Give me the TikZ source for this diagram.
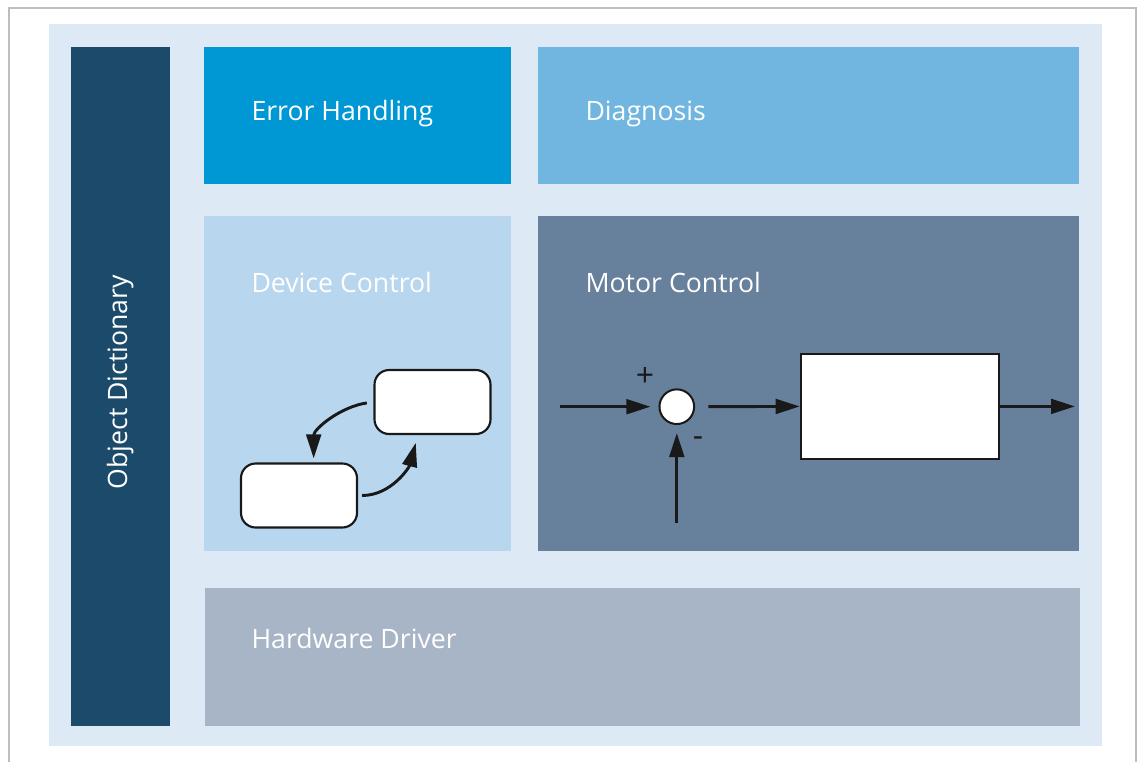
\documentclass[tikz,border=0pt]{standalone}
\usepackage{fontspec}
\setsansfont{Open Sans}
\usetikzlibrary{arrows.meta}

\definecolor{frameGray}{HTML}{BDBDBD}
\definecolor{paleBlue}{HTML}{DDE9F5}
\definecolor{dictBlue}{HTML}{1B4A6B}
\definecolor{errBlue}{HTML}{0098D4}
\definecolor{diagBlue}{HTML}{70B6E0}
\definecolor{devBlue}{HTML}{B8D6EE}
\definecolor{motorBlue}{HTML}{67809C}
\definecolor{hwGray}{HTML}{A8B5C6}

\tikzset{every picture/.style={line width=0.75pt}}
\tikzset{
  blocklabel/.style={anchor=base west, inner sep=0pt, text=white, font=\sffamily\fontsize{20}{24}\selectfont},
  statebox/.style={draw=black!90, fill=white, rounded corners=11pt, line width=1.6pt, minimum width=87pt, minimum height=48pt, inner sep=0pt},
  flow/.style={draw=black!90, line width=2.2pt, -{Triangle[length=18pt,width=11pt]}},
  signlabel/.style={inner sep=0pt, text=black!90, font=\sffamily\fontsize{24}{28}\selectfont}
}

\begin{document}
\begin{tikzpicture}[x=0.75pt,y=0.75pt,yscale=-1,xscale=1]
\useasboundingbox (0,0) rectangle (1137,761);

%Shape: Rectangle [frame]
\draw[frameGray, line width=1.5pt] (8.5,7.5) rectangle (1136,800) ;
%Shape: Rectangle [background]
\fill[paleBlue] (49,24) rectangle (1102,746) ;
%Shape: Rectangle [object dictionary]
\fill[dictBlue] (71,47) rectangle (170,726) ;
%Shape: Rectangle [error handling]
\fill[errBlue] (204,47) rectangle (511,184) ;
%Shape: Rectangle [diagnosis]
\fill[diagBlue] (538,47) rectangle (1079,184) ;
%Shape: Rectangle [device control]
\fill[devBlue] (204,216) rectangle (511,551) ;
%Shape: Rectangle [motor control]
\fill[motorBlue] (538,216) rectangle (1079,551) ;
%Shape: Rectangle [hardware driver]
\fill[hwGray] (205,588) rectangle (1080,726) ;

% Text Node
\node[blocklabel, rotate=90] (dict) at (127,490) {Object Dictionary};
% Text Node
\node[blocklabel] (errh) at (251,120) {Error Handling};
% Text Node
\node[blocklabel] (diag) at (585,120) {Diagnosis};
% Text Node
\node[blocklabel] (devc) at (251,292) {Device Control};
% Text Node
\node[blocklabel] (motc) at (585,292) {Motor Control};
% Text Node
\node[blocklabel] (hwdrv) at (251,648) {Hardware Driver};

%Device control states
\node[statebox] (stA) at (432.5,402) {};
\node[statebox] (stB) at (299,495.5) {};
\draw[flow, shorten <=5pt, shorten >=3pt] (stA.west) to[out=172,in=-90] ([xshift=11pt]stB.north) ;
\draw[flow, shorten <=3pt, shorten >=6pt] (stB.east) to[out=0,in=105] ([xshift=-11pt]stA.south) ;

%Motor control loop
\node[circle, draw=black!90, fill=white, line width=1.5pt, minimum size=26pt, inner sep=0pt] (sum) at (676.8,406.7) {};
\node[draw=black!90, fill=white, line width=1.5pt, minimum width=149pt, minimum height=79pt, inner sep=0pt] (plant) at (900,406.4) {};
\coordinate (uin) at (560,406.7);
\coordinate (fb) at (676.8,523);
\coordinate (yout) at (1075,406.4);
\draw[flow, shorten >=6pt] (uin) -- (sum.west) ;
\draw[flow, shorten <=10pt] (sum.east) -- (plant.west) ;
\draw[flow] (plant.east) -- (yout) ;
\draw[flow, shorten >=6pt] (fb) -- (sum.south) ;
% Text Node
\node[signlabel] (plus) at (645,377) {+};
% Text Node
\node[signlabel] (minus) at (698,442) {-};

\end{tikzpicture}
\end{document}
